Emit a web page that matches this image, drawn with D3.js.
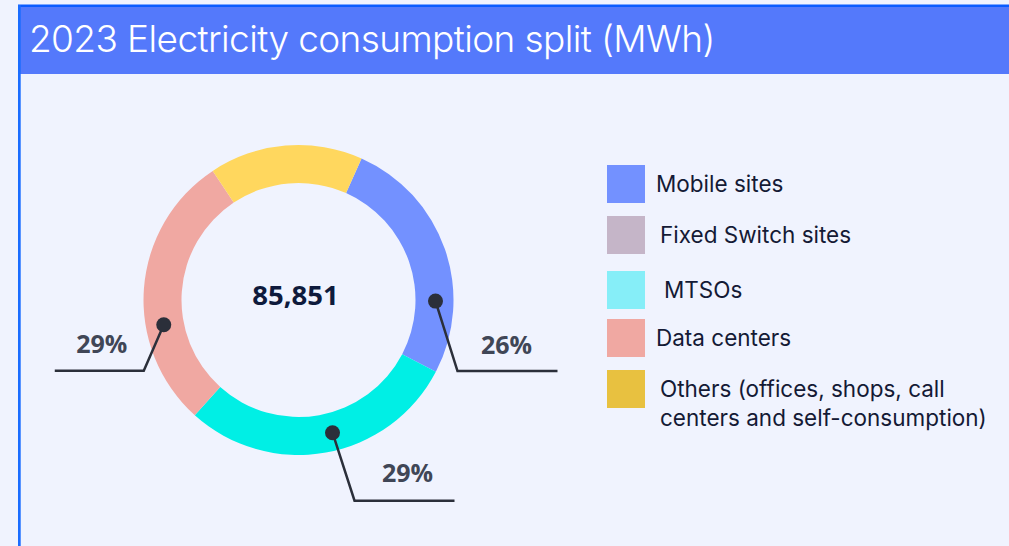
<!DOCTYPE html>
<html>
<head>
<meta charset="utf-8">
<script src="https://cdn.jsdelivr.net/npm/d3@7"></script>
<style>
  body { margin: 0; background: #f0f3fe; }
  svg { display: block; }
</style>
</head>
<body>
<div class="chart"></div>
<script>

var w = 1009;
var h = 546;

var title = "2023 Electricity consumption split (MWh)";
var total = "85,851";
var categories = ["Mobile sites", "Fixed Switch sites", "MTSOs", "Data centers", "Others"];
var legendLines = [["Mobile sites"], ["Fixed Switch sites"], ["MTSOs"], ["Data centers"],
                   ["Others (offices, shops, call", "centers and self-consumption)"]];
var shares = [26, 0, 29, 29, 16];
var labels = ["26%", "", "29%", "29%", ""];
var sliceColors = ["#7391ff", "#c5b5c8", "#00efe5", "#f0a8a2", "#ffd75e"];
var legendColors = ["#7391ff", "#c5b5c8", "#86eef8", "#f0a8a2", "#e8c140"];

// leader line layout per labelled slice (position along arc, elbow offset, run length, text offset)
var leaders = {
    0: {f: 0.71, dx: 22, dy: 70, run: 100, tx: 49, ty: -17},
    2: {f: 0.46, dx: 22, dy: 68, run: 100, tx: 53, ty: -19},
    3: {f: 0.36, dx: -20, dy: 46, run: -89, tx: -42, ty: -18}
};
var legendY = [165, 216, 271, 319, 370];
var legendDx = [0, 4, 8, 0, 4];

var cx = 298.5, cy = 300;
var outerR = 155, innerR = 117;

var svg = d3.select(".chart")
            .append("svg")
            .attr("width", w)
            .attr("height", h);

// panel + header
svg.append("rect").attr("x", 0).attr("y", 0).attr("width", w).attr("height", h).attr("fill", "#f0f3fe");
svg.append("rect").attr("x", 18).attr("y", 5).attr("width", w - 18).attr("height", 69).attr("fill", "#5479fb");
svg.append("rect").attr("x", 18).attr("y", 4.5).attr("width", w - 18).attr("height", 2.5).attr("fill", "#0a5cff");
svg.append("rect").attr("x", 18).attr("y", 5).attr("width", 2.7).attr("height", h).attr("fill", "#1a6cff");

svg.append("text")
    .attr("x", 29)
    .attr("y", 52)
    .attr("font-family", "'Inter Light', Inter")
    .attr("font-weight", 300)
    .attr("font-size", "37px")
    .attr("letter-spacing", "-0.6px")
    .attr("fill", "#ffffff")
    .text(title);

// donut
var start = 24 * Math.PI / 180;
var pie = d3.pie().sort(null).startAngle(start).endAngle(start + 2 * Math.PI);
var arcs = pie(shares);
var arc = d3.arc().innerRadius(innerR).outerRadius(outerR);

var g = svg.append("g").attr("transform", "translate(" + cx + "," + cy + ")");
g.selectAll("path")
    .data(arcs)
    .enter()
    .append("path")
    .attr("d", arc)
    .attr("fill", function(d, i) { return sliceColors[i]; });

g.append("text")
    .attr("x", -3)
    .attr("y", 5)
    .attr("text-anchor", "middle")
    .attr("font-family", "Open Sans")
    .attr("font-weight", 700)
    .attr("font-size", "27.5px")
    .attr("fill", "#0e1a3c")
    .text(total);

// leader lines with labels
var lab = arcs.filter(function(d, i) { return labels[i] !== ""; });
lab.forEach(function(d) {
    var L = leaders[d.index];
    var a = d.startAngle + L.f * (d.endAngle - d.startAngle);
    var r = 137;
    var x0 = r * Math.sin(a), y0 = -r * Math.cos(a);
    var x1 = x0 + L.dx, y1 = y0 + L.dy;
    g.append("path")
        .attr("d", d3.line()([[x0, y0], [x1, y1], [x1 + L.run, y1]]))
        .attr("fill", "none")
        .attr("stroke", "#2b2f3a")
        .attr("stroke-width", 2.5);
    g.append("circle")
        .attr("cx", x0)
        .attr("cy", y0)
        .attr("r", 7.5)
        .attr("fill", "#2b2f3a");
    g.append("text")
        .attr("x", x1 + L.tx)
        .attr("y", y1 + L.ty)
        .attr("text-anchor", "middle")
        .attr("font-family", "Open Sans")
        .attr("font-weight", 700)
        .attr("font-size", "25px")
        .attr("fill", "#404656")
        .text(labels[d.index]);
});

// legend
var leg = svg.selectAll(".legend")
    .data(categories)
    .enter()
    .append("g")
    .attr("class", "legend")
    .attr("transform", function(d, i) { return "translate(607," + legendY[i] + ")"; });

leg.append("rect")
    .attr("width", 38)
    .attr("height", 38)
    .attr("fill", function(d, i) { return legendColors[i]; });

leg.each(function(d, i) {
    var t = d3.select(this).append("text")
        .attr("font-family", "Inter")
        .attr("font-size", "22.5px")
        .attr("fill", "#141a35");
    legendLines[i].forEach(function(line, k) {
        t.append("tspan")
            .attr("x", 49 + legendDx[i])
            .attr("y", 27 + k * 29)
            .text(line);
    });
});

</script>
</body>
</html>
